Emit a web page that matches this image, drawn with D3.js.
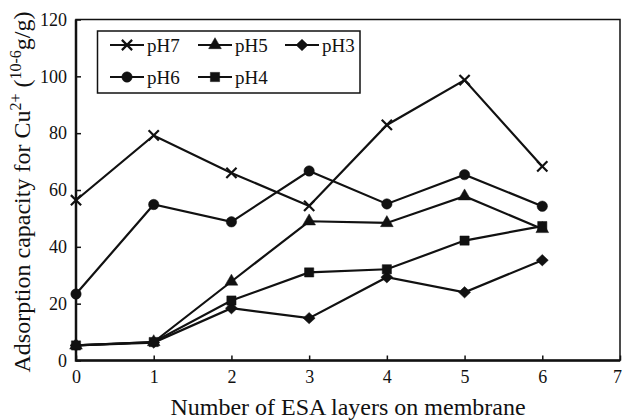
<!DOCTYPE html>
<html>
<head>
<meta charset="utf-8">
<script src="https://cdn.jsdelivr.net/npm/d3@7"></script>
<style>
  body { margin: 0; background: #fff; }
  svg text { font-family: "Liberation Serif", "Times New Roman", serif; fill: #111; }
</style>
</head>
<body>
<div id="chart"></div>
<script>
// data
const layers = [0, 1, 2, 3, 4, 5, 6];
const pH7 = [56.4, 79.2, 66.0, 54.4, 82.9, 98.7, 68.3];
const pH6 = [23.4, 54.9, 48.8, 66.7, 55.1, 65.4, 54.3];
const pH5 = [5.3, 6.5, 27.8, 49.0, 48.4, 57.8, 46.3];
const pH4 = [5.3, 6.5, 21.1, 31.0, 32.1, 42.2, 47.3];
const pH3 = [5.3, 6.3, 18.4, 14.9, 29.3, 24.0, 35.3];
const xTicks = [0, 1, 2, 3, 4, 5, 6, 7];
const yTicks = [0, 20, 40, 60, 80, 100, 120];

const width = 624, height = 420;
const margin = {top: 19.5, right: 4, bottom: 59.5, left: 76};

const svg = d3.select("#chart").append("svg")
    .attr("width", width)
    .attr("height", height);

const xScale = d3.scaleLinear().domain([0, 7]).range([margin.left, width - margin.right]);
const yScale = d3.scaleLinear().domain([0, 120]).range([height - margin.bottom, margin.top]);

// rotated square, as the reference uses a flat diamond
const rhomb = {
    draw(ctx, size) {
        const r = Math.sqrt(size) * 0.75;
        ctx.moveTo(0, -r * 0.95);
        ctx.lineTo(r, 0);
        ctx.lineTo(0, r * 0.95);
        ctx.lineTo(-r, 0);
        ctx.closePath();
    }
};

const series = [
    {name: "pH3", values: pH3, symbol: rhomb, size: 64, fill: true},
    {name: "pH4", values: pH4, symbol: d3.symbolSquare, size: 85, fill: true},
    {name: "pH5", values: pH5, symbol: d3.symbolTriangle, size: 70, fill: true},
    {name: "pH6", values: pH6, symbol: d3.symbolCircle, size: 85, fill: true},
    {name: "pH7", values: pH7, symbol: d3.symbolTimes, size: 70, fill: false}
];

// axes, ticks pointing inward
const xAxis = d3.axisBottom(xScale).tickValues(xTicks).tickFormat(d3.format("d"))
    .tickSizeInner(-5).tickSizeOuter(0).tickPadding(10);
const yAxis = d3.axisLeft(yScale).tickValues(yTicks).tickFormat(d3.format("d"))
    .tickSizeInner(-5).tickSizeOuter(0).tickPadding(9);

svg.append("g")
    .attr("transform", "translate(0," + yScale(0) + ")")
    .call(xAxis)
    .call(g => g.select(".domain").remove())
    .call(g => g.selectAll(".tick line").attr("stroke", "#111").attr("stroke-width", 1.5))
    .call(g => g.selectAll(".tick text").attr("font-size", "18px"))
    .call(g => g.selectAll(".tick text").filter(d => d === 7).attr("dx", "-3"));

svg.append("g")
    .attr("transform", "translate(" + xScale(0) + ",0)")
    .call(yAxis)
    .call(g => g.select(".domain").remove())
    .call(g => g.selectAll(".tick line").attr("stroke", "#111").attr("stroke-width", 1.5))
    .call(g => g.selectAll(".tick text").attr("font-size", "18px"));

// plot frame
svg.append("rect")
    .attr("x", xScale(0))
    .attr("y", yScale(120))
    .attr("width", xScale(7) - xScale(0))
    .attr("height", yScale(0) - yScale(120))
    .attr("fill", "none")
    .attr("stroke", "#111")
    .attr("stroke-width", 1.5);
svg.append("path")
    .attr("d", "M" + xScale(0) + "," + yScale(120) + "V" + yScale(0) + "H" + xScale(7))
    .attr("fill", "none")
    .attr("stroke", "#111")
    .attr("stroke-width", 2.5);

const line = d3.line()
    .x((d, i) => xScale(layers[i]))
    .y(d => yScale(d));

const g = svg.append("g");

series.forEach(s => {
    g.append("path")
        .datum(s.values)
        .attr("d", line)
        .attr("fill", "none")
        .attr("stroke", "#111")
        .attr("stroke-width", 2.2);
});

series.forEach(s => {
    g.selectAll(null)
        .data(s.values)
        .enter().append("path")
        .attr("transform", (d, i) => "translate(" + xScale(layers[i]) + "," + yScale(d) + ")")
        .attr("d", d3.symbol().type(s.symbol).size(s.size))
        .attr("fill", s.fill ? "#111" : "none")
        .attr("stroke", "#111")
        .attr("stroke-width", s.fill ? 0.5 : 2.2);
});

// legend
const legend = svg.append("g");
legend.append("rect")
    .attr("x", 97.5).attr("y", 31)
    .attr("width", 262.5).attr("height", 62)
    .attr("fill", "#fff")
    .attr("stroke", "#111")
    .attr("stroke-width", 1.5);

const legendItems = [
    {s: series[4], x: 110, y: 45},
    {s: series[2], x: 198, y: 45},
    {s: series[0], x: 285, y: 45},
    {s: series[3], x: 110, y: 77},
    {s: series[1], x: 198, y: 77}
];

legendItems.forEach(it => {
    const lg = legend.append("g").attr("transform", "translate(" + it.x + "," + it.y + ")");
    lg.append("line")
        .attr("x1", 0).attr("x2", 34)
        .attr("y1", 0).attr("y2", 0)
        .attr("stroke", "#111")
        .attr("stroke-width", 2.2);
    lg.append("path")
        .attr("transform", "translate(17,0)")
        .attr("d", d3.symbol().type(it.s.symbol).size(it.s.size))
        .attr("fill", it.s.fill ? "#111" : "none")
        .attr("stroke", "#111")
        .attr("stroke-width", it.s.fill ? 0.5 : 2.2);
    lg.append("text")
        .attr("x", 37)
        .attr("y", 6.5)
        .attr("font-size", "19px")
        .text(it.s.name);
});

// axis titles
svg.append("text")
    .attr("x", (xScale(0) + xScale(7)) / 2)
    .attr("y", 415)
    .attr("text-anchor", "middle")
    .attr("font-size", "24px")
    .text("Number of ESA layers on membrane");

const yTitle = svg.append("text")
    .attr("transform", "translate(30,192) rotate(-90)")
    .attr("text-anchor", "middle")
    .attr("font-size", "24px");
yTitle.append("tspan").text("Adsorption capacity for Cu");
yTitle.append("tspan").attr("font-size", "16px").attr("dy", "-9").text("2+");
yTitle.append("tspan").attr("dy", "9").text(" (");
yTitle.append("tspan").attr("font-size", "16px").attr("dy", "-9").text("10-6");
yTitle.append("tspan").attr("dy", "9").text("g/g)");
</script>
</body>
</html>
